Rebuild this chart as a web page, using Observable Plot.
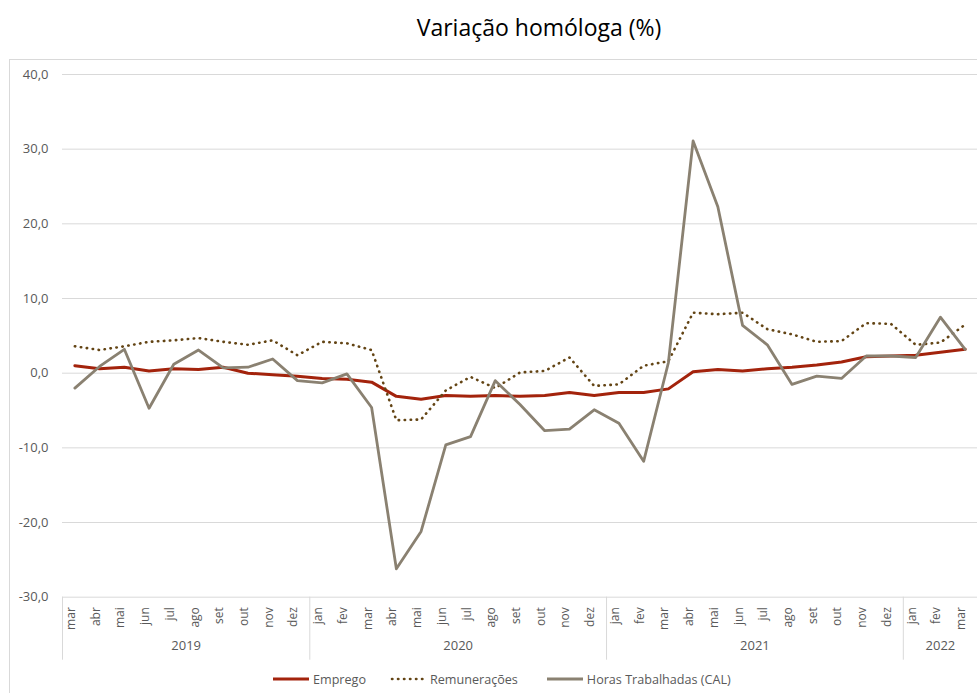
<!DOCTYPE html>
<html>
<head>
<meta charset="utf-8">
<script src="https://cdn.jsdelivr.net/npm/d3@7"></script>
<script src="https://cdn.jsdelivr.net/npm/@observablehq/plot@0.6"></script>
<style>
  body { margin: 0; background: #fff; }
  #wrap { position: relative; width: 977px; height: 693px; overflow: hidden; font-family: "Open Sans", sans-serif; }
  #frame { position: absolute; left: 9px; top: 59px; width: 1000px; height: 700px; border: 1px solid #d9d9d9; box-sizing: border-box; }
  #title { position: absolute; left: 0; width: 1078px; top: 12px; text-align: center; font-size: 23px; line-height: 30px; color: #000; white-space: nowrap; }
  #chart { position: absolute; left: 0; top: 0; }
  #legend { position: absolute; left: 273px; top: 670px; height: 18px; display: flex; align-items: center; font-size: 12.6px; color: #595959; white-space: nowrap; }
  #legend .item { display: flex; align-items: center; }
  #legend svg { display: block; }
</style>
</head>
<body>
<div id="wrap">
  <div id="frame"></div>
  <div id="chart"></div>
  <div id="title">Variação homóloga (%)</div>
  <div id="legend"></div>
</div>
<script>
// Tick labels (categories)
const months = [
  "mar","abr","mai","jun","jul","ago","set","out","nov","dez",
  "jan","fev","mar","abr","mai","jun","jul","ago","set","out","nov","dez",
  "jan","fev","mar","abr","mai","jun","jul","ago","set","out","nov","dez",
  "jan","fev","mar"
];
const years = [
  "2019","2019","2019","2019","2019","2019","2019","2019","2019","2019",
  "2020","2020","2020","2020","2020","2020","2020","2020","2020","2020","2020","2020",
  "2021","2021","2021","2021","2021","2021","2021","2021","2021","2021","2021","2021",
  "2022","2022","2022"
];
const yTicks = [-30, -20, -10, 0, 10, 20, 30, 40];

// Series values
const emprego = [
  1.0, 0.6, 0.8, 0.3, 0.6, 0.5, 0.8, 0.0, -0.2, -0.4,
  -0.7, -0.8, -1.2, -3.1, -3.5, -3.0, -3.1, -3.0, -3.1, -3.0, -2.6, -3.0,
  -2.6, -2.6, -2.1, 0.2, 0.5, 0.3, 0.6, 0.8, 1.1, 1.5, 2.2, 2.3,
  2.4, 2.8, 3.2
];
const remuneracoes = [
  3.6, 3.1, 3.6, 4.2, 4.4, 4.7, 4.2, 3.8, 4.4, 2.4,
  4.2, 4.0, 3.1, -6.3, -6.2, -2.3, -0.5, -2.0, 0.1, 0.3, 2.1, -1.7,
  -1.5, 1.0, 1.6, 8.1, 7.9, 8.1, 5.9, 5.2, 4.2, 4.3, 6.7, 6.6,
  3.8, 4.1, 6.5
];
const horas = [
  -2.0, 0.9, 3.2, -4.7, 1.2, 3.1, 0.7, 0.8, 1.9, -1.0,
  -1.3, -0.1, -4.6, -26.2, -21.2, -9.6, -8.5, -1.0, -4.2, -7.7, -7.5, -4.9,
  -6.7, -11.8, 1.4, 31.1, 22.3, 6.4, 3.8, -1.5, -0.4, -0.7, 2.3, 2.3,
  2.1, 7.5, 3.2
];

const series = [
  {name: "Emprego", values: emprego, color: "#a3230c", width: 3, dash: null, cap: "round"},
  {name: "Remunerações", values: remuneracoes, color: "#634414", width: 2.6, dash: "0.4,5.6", cap: "round"},
  {name: "Horas Trabalhadas (CAL)", values: horas, color: "#8a8171", width: 2.8, dash: null, cap: "round"}
];

const data = months.map((m, i) => ({i, month: m, year: years[i]}));
const long = series.flatMap(s => s.values.map((v, i) => ({i, v, name: s.name})));

// Year groups and boundaries derived from the year labels
const yearNames = Array.from(new Set(years));
const yearGroups = yearNames.map(y => {
  const idx = data.filter(d => d.year === y).map(d => d.i);
  return {year: y, mid: (idx[0] + idx[idx.length - 1]) / 2, first: idx[0], last: idx[idx.length - 1]};
});
const bounds = [yearGroups[0].first - 0.5, ...yearGroups.map(g => g.last + 0.5)];

const fmt = d => d.toFixed(1).replace(".", ",");

const plot = Plot.plot({
  width: 977,
  height: 693,
  marginTop: 74,
  marginBottom: 96.3,
  marginLeft: 62,
  marginRight: 0,
  style: {fontFamily: "'Open Sans', sans-serif", fontSize: "13px", color: "#595959", background: "transparent"},
  x: {type: "linear", domain: [-0.5, months.length - 0.5], axis: null},
  y: {domain: [-30, 40], ticks: yTicks, tickSize: 0, tickPadding: 14, tickFormat: fmt, label: null},
  marks: [
    Plot.ruleY(yTicks, {stroke: "#d9d9d9", strokeWidth: 1}),
    Plot.ruleX(bounds, {x: d => d, y1: -30, y2: -30, insetBottom: -63, stroke: "#d9d9d9", strokeWidth: 1}),
    ...series.map(s => Plot.line(long.filter(d => d.name === s.name), {
      x: "i", y: "v", stroke: s.color, strokeWidth: s.width,
      strokeDasharray: s.dash, strokeLinejoin: "round", strokeLinecap: s.cap
    })),
    Plot.text(data, {x: "i", text: "month", frameAnchor: "bottom", dy: 10, rotate: -90, textAnchor: "end", fontSize: 12, fill: "#595959"}),
    Plot.text(yearGroups, {x: "mid", text: "year", frameAnchor: "bottom", dy: 53, fontSize: 13, fill: "#595959"})
  ]
});
document.getElementById("chart").appendChild(plot);

// Legend
const legend = d3.select("#legend");
const gaps = [24, 29, 0];
series.forEach((s, k) => {
  const item = legend.append("div").attr("class", "item").style("margin-right", gaps[k] + "px");
  const sw = item.append("svg").attr("width", 36).attr("height", 10);
  sw.append("line").attr("x1", s.dash ? 2 : 0).attr("x2", 36).attr("y1", 5).attr("y2", 5)
    .attr("stroke", s.color).attr("stroke-width", s.width)
    .attr("stroke-linecap", s.dash ? "round" : "butt")
    .attr("stroke-dasharray", s.dash);
  item.append("span").style("margin-left", "4px").text(s.name);
});
</script>
</body>
</html>
